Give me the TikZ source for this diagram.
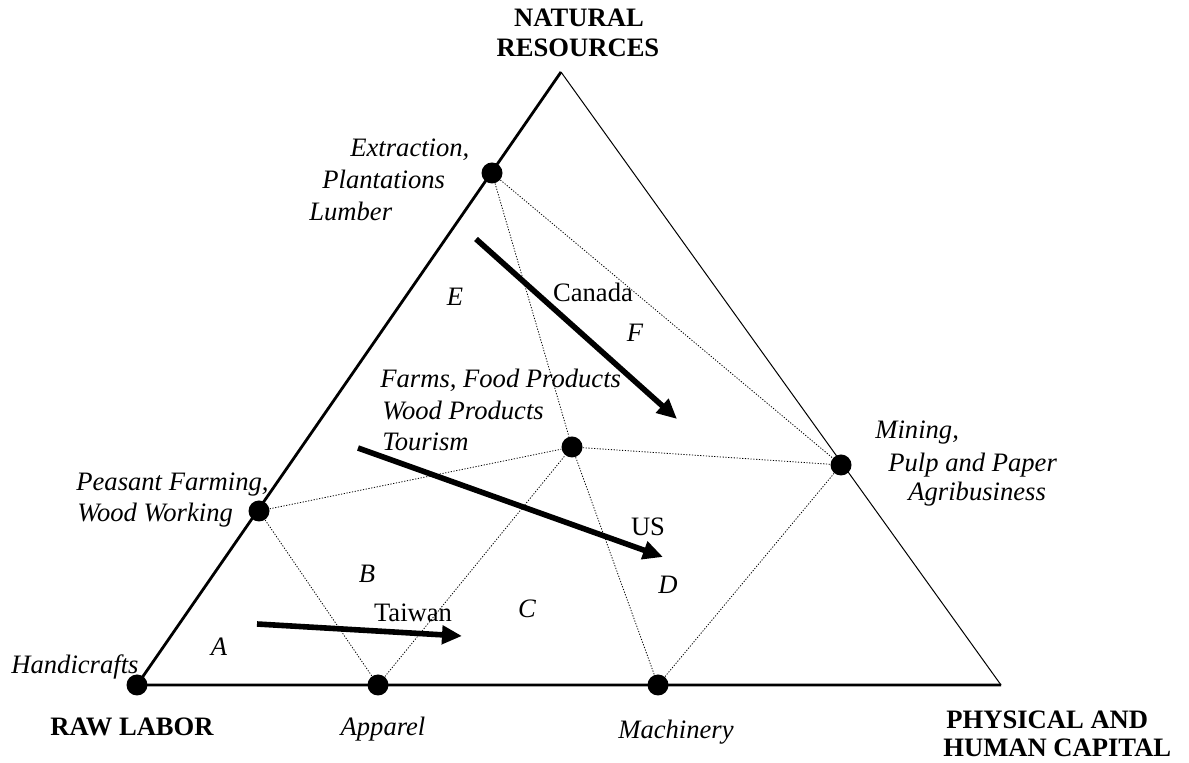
\documentclass[tikz,border=0pt]{standalone}
\usepackage{fontspec}
\setmainfont{Liberation Serif}
\usetikzlibrary{arrows.meta}
\tikzset{>={Triangle[length=10pt,width=9pt]}}
\tikzset{
  bullet/.style={circle,fill,inner sep=0pt,minimum size=10.5pt},
  cut/.style={line width=0.4pt,dash pattern=on 0.6pt off 0.8pt},
  trend/.style={->,line width=2.8pt},
  txt/.style={inner sep=0pt,font=\fontsize{13.3}{15.5}\selectfont},
  sector/.style={txt,font=\fontsize{13.3}{15.5}\selectfont\itshape},
  axis/.style={txt,font=\fontsize{13.3}{15.5}\selectfont\bfseries}
}

\begin{document}
\begin{tikzpicture}[x=0.5pt,y=-0.5pt]
  \useasboundingbox (0,0) rectangle (1189,763);
  % corners of the triangle
  \coordinate (top) at (561,72);
  \coordinate (lft) at (137,685);
  \coordinate (rgt) at (1001,685);
  % industries
  \node[bullet] (hand)  at (lft) {};
  \node[bullet] (appar) at (378,685) {};
  \node[bullet] (mach)  at (658,685) {};
  \node[bullet] (peas)  at (259,511) {};
  \node[bullet] (extr)  at (492,173) {};
  \node[bullet] (farm)  at (572,447) {};
  \node[bullet] (mine)  at (841,465) {};
  % cones
  \draw[cut] (extr) -- (farm) -- (mach);
  \draw[cut] (extr) -- (mine);
  \draw[cut] (peas) -- (farm) -- (mine);
  \draw[cut] (peas) -- (appar) -- (farm);
  \draw[cut] (mach) -- (mine);
  \draw[line width=1.4pt] (top) -- (lft) -- (rgt);
  \draw[line width=0.5pt] (top) -- (rgt);
  % paths of development
  \coordinate (tw0) at (257,624);  \coordinate (tw1) at (462,636);
  \coordinate (us0) at (358,448);  \coordinate (us1) at (663,557);
  \coordinate (ca0) at (476,239);  \coordinate (ca1) at (677,419);
  \draw[trend] (tw0) -- (tw1);
  \draw[trend] (us0) -- (us1);
  \draw[trend] (ca0) -- (ca1);
  \node[txt,anchor=base] (taiwan) at (413,622) {Taiwan};
  \node[txt,anchor=base] (usa) at (648,536) {US};
  \node[txt,anchor=base] (canada) at (593,302) {Canada};
  % regions
  \node[sector,anchor=base] (ra) at (219,656) {A};
  \node[sector,anchor=base] (rb) at (367,583) {B};
  \node[sector,anchor=base] (rc) at (527,618) {C};
  \node[sector,anchor=base] (rd) at (668,594) {D};
  \node[sector,anchor=base] (re) at (455,306) {E};
  \node[sector,anchor=base] (rf) at (635,342) {F};
  % industry labels
  \node[sector,anchor=base west] (l1) at (350,157) {Extraction,};
  \node[sector,anchor=base west] (l2) at (322,189) {Plantations};
  \node[sector,anchor=base west] (l3) at (309,221) {Lumber};
  \node[sector,anchor=base west] (l4) at (380,388) {Farms, Food Products};
  \node[sector,anchor=base west] (l5) at (382,420) {Wood Products};
  \node[sector,anchor=base west] (l6) at (382,451) {Tourism};
  \node[sector,anchor=base west] (l7) at (76,491) {Peasant Farming,};
  \node[sector,anchor=base west] (l8) at (77,522) {Wood Working};
  \node[sector,anchor=base west] (l9) at (11,674) {Handicrafts};
  \node[sector,anchor=base west] (l10) at (875,439) {Mining,};
  \node[sector,anchor=base west] (l11) at (888,472) {Pulp and Paper};
  \node[sector,anchor=base west] (l12) at (908,501) {Agribusiness};
  \node[sector,anchor=base] (l13) at (383,736) {Apparel};
  \node[sector,anchor=base] (l14) at (676,739) {Machinery};
  % factors
  \node[axis,anchor=base] (nat1) at (579,27) {NATURAL};
  \node[axis,anchor=base] (nat2) at (578,57) {RESOURCES};
  \node[axis,anchor=base] (raw) at (132,736) {RAW LABOR};
  \node[axis,anchor=base west] (cap1) at (946,729) {PHYSICAL AND};
  \node[axis,anchor=base west] (cap2) at (943,757) {HUMAN CAPITAL};
\end{tikzpicture}
\end{document}
